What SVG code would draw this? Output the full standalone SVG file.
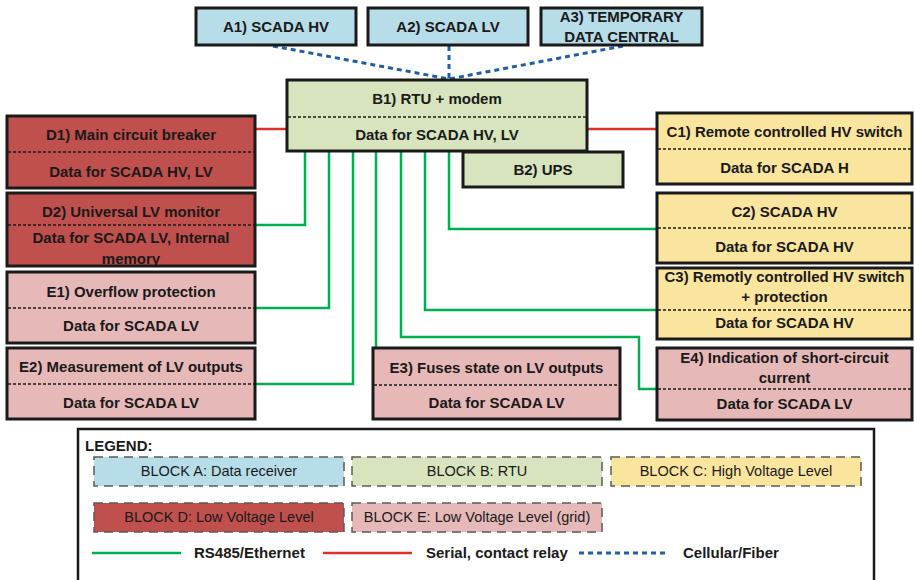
<svg xmlns="http://www.w3.org/2000/svg" width="915" height="580" viewBox="0 0 915 580">
  <style>
    .box { stroke: #1a1a1a; stroke-width: 3; }
    .a { fill: #b7dde8; }
    .b { fill: #d7e4bd; }
    .c { fill: #fae59e; }
    .d { fill: #c0504d; }
    .e { fill: #e6b9b8; }
    .div { stroke: #1a1a1a; stroke-width: 1.5; stroke-dasharray: 3 2; fill: none; }
    .t { font-family: "Liberation Sans", Arial, sans-serif; font-size: 15px; font-weight: bold; fill: #1a1a1a; text-anchor: middle; }
    .lt { font-family: "Liberation Sans", Arial, sans-serif; font-size: 14.5px; fill: #1a1a1a; text-anchor: middle; }
    .lb { font-family: "Liberation Sans", Arial, sans-serif; font-size: 15px; font-weight: bold; fill: #1a1a1a; }
    .green { stroke: #00b050; stroke-width: 2.5; fill: none; }
    .red { stroke: #e0302a; stroke-width: 2.5; fill: none; }
    .blue { stroke: #1f5fa8; stroke-width: 3; stroke-dasharray: 5 4; fill: none; }
    .lbox { stroke: #595959; stroke-width: 1.5; stroke-dasharray: 9 6; }
  </style>

  <!-- connectors -->
  <g id="connectors">
    <path class="blue" d="M273,46 L449,79"/>
    <path class="blue" d="M449,46 L449,79"/>
    <path class="blue" d="M623,46 L449,79"/>
    <path class="red" d="M255,129 L287,129"/>
    <path class="red" d="M587,129 L657,129"/>
    <path class="green" d="M305,151 V225 H255"/>
    <path class="green" d="M329,151 V308 H255"/>
    <path class="green" d="M353,151 V384 H255"/>
    <path class="green" d="M376,151 V348"/>
    <path class="green" d="M401,151 V337 H639 V389 H657"/>
    <path class="green" d="M425,151 V310 H657"/>
    <path class="green" d="M449,151 V229 H657"/>
  </g>

  <!-- block A -->
  <g id="A1">
    <rect class="box a" x="196" y="8" width="160" height="37"/>
    <text class="t" x="276" y="32">A1) SCADA HV</text>
  </g>
  <g id="A2">
    <rect class="box a" x="368" y="8" width="160" height="37"/>
    <text class="t" x="448" y="32">A2) SCADA LV</text>
  </g>
  <g id="A3">
    <rect class="box a" x="541" y="8" width="161" height="37"/>
    <text class="t" x="621.5" y="22">A3) TEMPORARY</text>
    <text class="t" x="621.5" y="42">DATA CENTRAL</text>
  </g>

  <!-- block B -->
  <g id="B2">
    <rect class="box b" x="463" y="152" width="160" height="35"/>
    <text class="t" x="543" y="175">B2) UPS</text>
  </g>
  <g id="B1">
    <rect class="box b" x="287" y="80" width="300" height="71"/>
    <line class="div" x1="288" y1="117" x2="586" y2="117"/>
    <text class="t" x="437" y="104">B1) RTU + modem</text>
    <text class="t" x="437" y="140">Data for SCADA HV, LV</text>
  </g>

  <!-- block D -->
  <g id="D1">
    <rect class="box d" x="7" y="116" width="248" height="72"/>
    <line class="div" x1="8" y1="152" x2="254" y2="152"/>
    <text class="t" x="131" y="140">D1) Main circuit breaker</text>
    <text class="t" x="131" y="177">Data for SCADA HV, LV</text>
  </g>
  <g id="D2">
    <rect class="d" x="7" y="193" width="248" height="73"/>
    <line class="div" x1="8" y1="225" x2="254" y2="225"/>
    <text class="t" x="131" y="217">D2) Universal LV monitor</text>
    <text class="t" x="131" y="243">Data for SCADA LV, Internal</text>
    <text class="t" x="131" y="264">memory</text>
    <rect class="box" fill="none" x="7" y="193" width="248" height="73"/>
  </g>

  <!-- block E -->
  <g id="E1">
    <rect class="box e" x="7" y="272" width="248" height="71"/>
    <line class="div" x1="8" y1="308" x2="254" y2="308"/>
    <text class="t" x="131" y="297">E1) Overflow protection</text>
    <text class="t" x="131" y="331">Data for SCADA LV</text>
  </g>
  <g id="E2">
    <rect class="box e" x="7" y="348" width="248" height="71"/>
    <line class="div" x1="8" y1="384" x2="254" y2="384"/>
    <text class="t" x="131" y="372">E2) Measurement of LV outputs</text>
    <text class="t" x="131" y="408">Data for SCADA LV</text>
  </g>
  <g id="E3">
    <rect class="box e" x="373" y="348" width="247" height="71"/>
    <line class="div" x1="374" y1="385" x2="619" y2="385"/>
    <text class="t" x="496.5" y="373">E3) Fuses state on LV outputs</text>
    <text class="t" x="496.5" y="408">Data for SCADA LV</text>
  </g>
  <g id="E4">
    <rect class="box e" x="657" y="348" width="255" height="72"/>
    <line class="div" x1="658" y1="389" x2="911" y2="389"/>
    <text class="t" x="784.5" y="363">E4) Indication of short-circuit</text>
    <text class="t" x="784.5" y="383">current</text>
    <text class="t" x="784.5" y="409">Data for SCADA LV</text>
  </g>

  <!-- block C -->
  <g id="C1">
    <rect class="box c" x="657" y="113" width="255" height="71"/>
    <line class="div" x1="658" y1="149" x2="911" y2="149"/>
    <text class="t" x="784.5" y="137">C1) Remote controlled HV switch</text>
    <text class="t" x="784.5" y="173">Data for SCADA H</text>
  </g>
  <g id="C2">
    <rect class="box c" x="657" y="193" width="255" height="70"/>
    <line class="div" x1="658" y1="228" x2="911" y2="228"/>
    <text class="t" x="784.5" y="217">C2) SCADA HV</text>
    <text class="t" x="784.5" y="252">Data for SCADA HV</text>
  </g>
  <g id="C3">
    <rect class="box c" x="657" y="268" width="255" height="71"/>
    <line class="div" x1="658" y1="310" x2="911" y2="310"/>
    <text class="t" x="784.5" y="282">C3) Remotly controlled HV switch</text>
    <text class="t" x="784.5" y="302">+ protection</text>
    <text class="t" x="784.5" y="328">Data for SCADA HV</text>
  </g>

  <!-- legend -->
  <g id="legend">
    <rect x="78" y="429" width="796" height="160" fill="#ffffff" stroke="#1a1a1a" stroke-width="2.5"/>
    <text class="lb" x="85" y="451">LEGEND:</text>
    <rect class="lbox a" x="94" y="457" width="250" height="29"/>
    <text class="lt" x="219" y="476">BLOCK A: Data receiver</text>
    <rect class="lbox b" x="352" y="457" width="250" height="29"/>
    <text class="lt" x="477" y="476">BLOCK B: RTU</text>
    <rect class="lbox c" x="611" y="457" width="250" height="29"/>
    <text class="lt" x="736" y="476">BLOCK C: High Voltage Level</text>
    <rect class="lbox d" x="94" y="503" width="250" height="29"/>
    <text class="lt" x="219" y="522">BLOCK D: Low Voltage Level</text>
    <rect class="lbox e" x="352" y="503" width="250" height="29"/>
    <text class="lt" x="477" y="522">BLOCK E: Low Voltage Level (grid)</text>
    <line class="green" x1="92" y1="553" x2="181" y2="553"/>
    <text class="lb" x="194" y="558">RS485/Ethernet</text>
    <line class="red" x1="323" y1="553" x2="412" y2="553"/>
    <text class="lb" x="426" y="558">Serial, contact relay</text>
    <line class="blue" x1="579" y1="553" x2="669" y2="553"/>
    <text class="lb" x="683" y="558">Cellular/Fiber</text>
  </g>
</svg>
